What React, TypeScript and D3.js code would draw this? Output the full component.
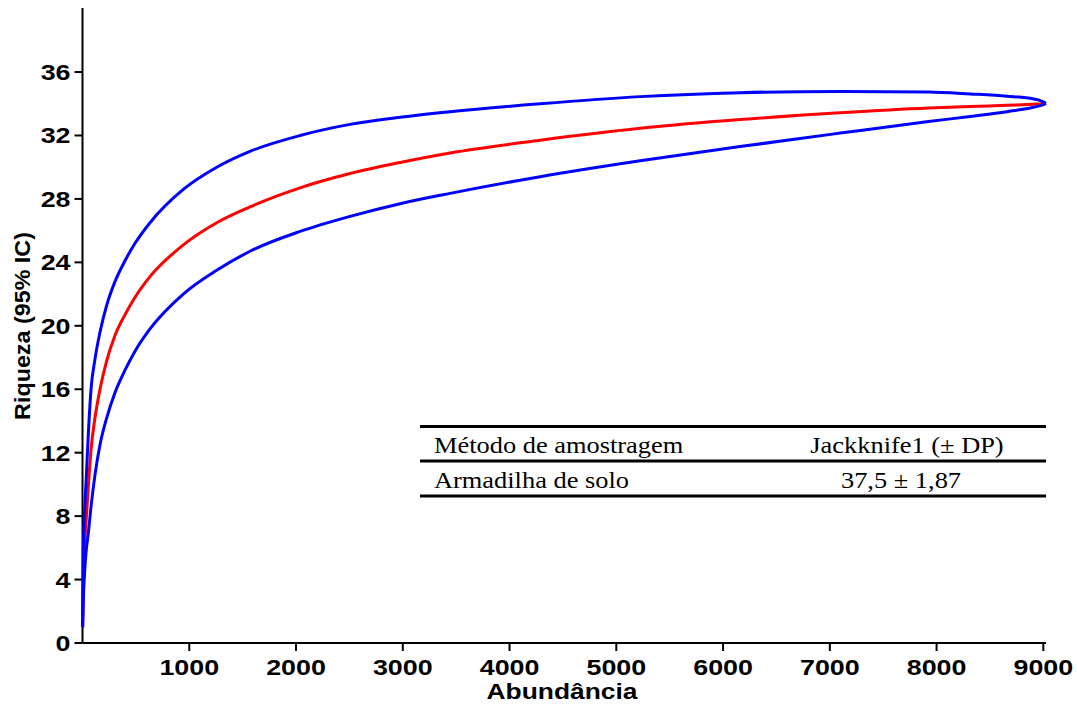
import React from "react";
import * as d3 from "d3";

// Rarefaction curve (individual-based), mean and 95% confidence bounds
const abundance = [1, 8, 23, 33, 54, 80, 117, 164, 227, 305, 398, 492, 632, 944, 1257, 1569, 2038, 2506, 2975, 3443, 4287, 5224, 6160, 7097, 7925, 8315, 8659, 8909, 8971, 9025];
const mean = [1.0, 5.0, 6.6, 7.6, 9.8, 12.2, 14.2, 16.0, 17.8, 19.4, 20.7, 21.8, 23.1, 25.1, 26.5, 27.5, 28.7, 29.6, 30.3, 30.9, 31.7, 32.45, 33.0, 33.43, 33.73, 33.83, 33.9, 33.97, 33.99, 34.0];
const upper = [1.0, 5.9, 8.8, 10.1, 13.1, 16.0, 17.9, 19.6, 21.3, 22.8, 24.1, 25.2, 26.5, 28.6, 30.0, 31.0, 32.0, 32.7, 33.15, 33.5, 34.0, 34.45, 34.7, 34.78, 34.74, 34.62, 34.48, 34.3, 34.2, 34.03];
const lower = [1.0, 2.8, 4.8, 5.7, 6.9, 8.6, 10.6, 12.5, 14.2, 15.8, 17.2, 18.4, 19.8, 22.0, 23.5, 24.7, 25.95, 26.9, 27.7, 28.35, 29.4, 30.4, 31.3, 32.15, 32.88, 33.2, 33.5, 33.78, 33.88, 34.03];

const xTicks = [1000, 2000, 3000, 4000, 5000, 6000, 7000, 8000, 9000];
const yTicks = [0, 4, 8, 12, 16, 20, 24, 28, 32, 36];

const tableHeader = ["Método de amostragem", "Jackknife1 (± DP)"];
const tableRow = ["Armadilha de solo", "37,5 ± 1,87"];

const W = 1077;
const H = 706;

export default function App() {
  const x = d3.scaleLinear().domain([0, 9025]).range([82.5, 1046]);
  const y = d3.scaleLinear().domain([0, 40]).range([643, 8.6]);

  const line = (vals: number[]) =>
    d3
      .line<number>()
      .x((_, i) => x(abundance[i]))
      .y((v) => y(v))
      .curve(d3.curveMonotoneX)(vals) || "";

  const sans = "'Liberation Sans', Arial, sans-serif";
  const serif = "'Liberation Serif', 'Times New Roman', serif";
  const x0 = x(0);
  const yBase = y(0);

  return (
    <svg
      width={W}
      height={H}
      style={{ position: "absolute", left: 0, top: 0, background: "#fff" }}
    >
      {/* axes */}
      <line x1={x0} x2={x0} y1={8} y2={yBase} stroke="#000" strokeWidth={2} />
      <line x1={x0} x2={x(9025)} y1={yBase} y2={yBase} stroke="#000" strokeWidth={2} />

      {yTicks.map((t) => (
        <g key={"y" + t}>
          <line x1={x0 - 8} x2={x0} y1={y(t)} y2={y(t)} stroke="#000" strokeWidth={2} />
          <text
            transform={`translate(${x0 - 12},${y(t) + 8}) scale(1.22,1)`}
            textAnchor="end"
            fontFamily={sans}
            fontWeight="bold"
            fontSize={22}
          >
            {t}
          </text>
        </g>
      ))}

      {xTicks.map((t) => (
        <g key={"x" + t}>
          <line x1={x(t)} x2={x(t)} y1={yBase} y2={yBase + 8} stroke="#000" strokeWidth={2} />
          <text
            transform={`translate(${x(t)},675) scale(1.22,1)`}
            textAnchor="middle"
            fontFamily={sans}
            fontWeight="bold"
            fontSize={22}
          >
            {t}
          </text>
        </g>
      ))}

      <text
        transform={`translate(562,699) scale(1.2,1)`}
        textAnchor="middle"
        fontFamily={sans}
        fontWeight="bold"
        fontSize={22}
      >
        Abundância
      </text>
      <text
        transform={`translate(30,326) rotate(-90) scale(1.06,1.0)`}
        textAnchor="middle"
        fontFamily={sans}
        fontWeight="bold"
        fontSize={22}
      >
        Riqueza (95% IC)
      </text>

      {/* curves */}
      <path d={line(mean)} fill="none" stroke="#ff0000" strokeWidth={3} />
      <path d={line(upper)} fill="none" stroke="#0000ff" strokeWidth={3} />
      <path d={line(lower)} fill="none" stroke="#0000ff" strokeWidth={3} />

      {/* summary table */}
      {[426.5, 461, 496].map((ly, i) => (
        <line key={"t" + i} x1={420} x2={1046} y1={ly} y2={ly} stroke="#000" strokeWidth={3} />
      ))}
      <text transform="translate(434,453.3) scale(1.1,1)" fontFamily={serif} fontSize={24}>
        {tableHeader[0]}
      </text>
      <text transform="translate(907,453.3) scale(1.1,1)" textAnchor="middle" fontFamily={serif} fontSize={24}>
        {tableHeader[1]}
      </text>
      <text transform="translate(434,488.3) scale(1.1,1)" fontFamily={serif} fontSize={24}>
        {tableRow[0]}
      </text>
      <text transform="translate(901,488.3) scale(1.1,1)" textAnchor="middle" fontFamily={serif} fontSize={24}>
        {tableRow[1]}
      </text>
    </svg>
  );
}
